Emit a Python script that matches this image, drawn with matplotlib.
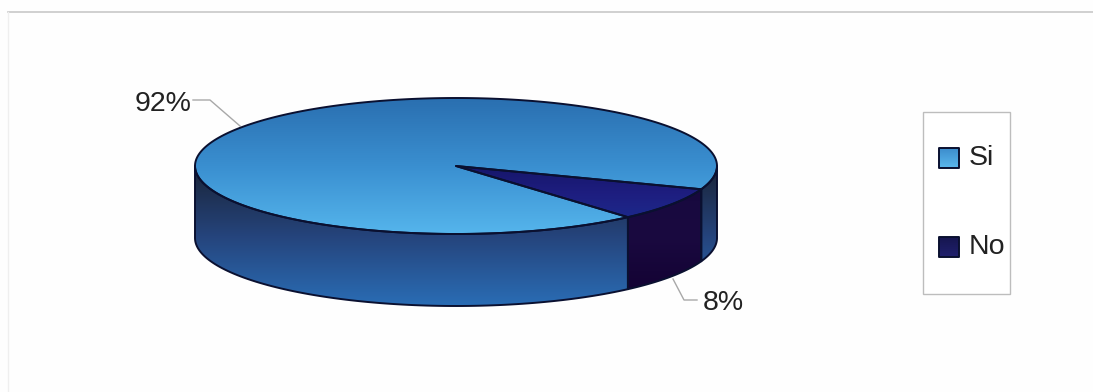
import matplotlib
matplotlib.use("Agg")
import matplotlib.pyplot as plt
import numpy as np
from matplotlib.patches import Polygon, Rectangle
from matplotlib.colors import LinearSegmentedColormap

categories = ["Si", "No"]
shares = [92, 8]
pct_labels = ["92%", "8%"]
colors_top = [["#2a6fb0", "#3a8fd0", "#55b5ec"], ["#16166a", "#1e1e80", "#1c2a8c"]]
colors_side = [["#1a2438", "#25447c", "#2a6db5"], ["#16083e", "#1a0a40", "#120030"]]

plt.rcParams["font.family"] = ["Liberation Sans", "DejaVu Sans"]

cx, cy, a, b, depth = 456, 166, 261, 68, 72
start = -20


def ell(t, dy=0):
    t = np.radians(t)
    return np.column_stack([cx + a * np.cos(t), cy - b * np.sin(t) + dy])


def grad(ax, poly, cols, extent, lw=1.4):
    # gradient image clipped to the shape
    cm = LinearSegmentedColormap.from_list("g", cols)
    z = np.linspace(0, 1, 256).reshape(-1, 1)
    im = ax.imshow(z, cmap=cm, extent=extent, aspect="auto", zorder=2, origin="upper")
    p = Polygon(poly, closed=True, transform=ax.transData, facecolor="none", edgecolor="none")
    ax.add_patch(p)
    im.set_clip_path(p)
    ax.add_patch(Polygon(poly, closed=True, facecolor="none", edgecolor="#0a1030", lw=lw, zorder=3, joinstyle="round"))


fig = plt.figure(figsize=(10.93, 3.92), dpi=100, facecolor="#fefefe")
ax = fig.add_axes([0, 0, 1, 1])
ax.set_xlim(0, 1093)
ax.set_ylim(392, 0)
ax.axis("off")

# frame of the chart area
ax.plot([8, 1093], [12, 12], color="#c9c9c9", lw=1.2)
ax.plot([8, 8], [12, 392], color="#efefef", lw=1)

# angles come from the shares
sweep = [s / sum(shares) * 360 for s in shares]
si_end = start + sweep[0]
no_start, no_end = si_end - 360, start


def side(t0, t1):
    t = np.linspace(t0, t1, 100)
    return np.vstack([ell(t), ell(t[::-1], depth)])


# walls
grad(ax, side(-180, no_start), colors_side[0], (195, 720, 306, 166))
grad(ax, side(no_start, no_end), colors_side[1], (195, 720, 306, 166))
grad(ax, side(no_end, 0), colors_side[0], (195, 720, 306, 166))

# top faces
t = np.linspace(start, si_end, 300)
grad(ax, np.vstack([[cx, cy], ell(t)]), colors_top[0], (195, 720, 234, 98))
t = np.linspace(no_start, no_end, 60)
grad(ax, np.vstack([[cx, cy], ell(t)]), colors_top[1], (195, 720, 222, 166))

# leader lines
ax.plot([193, 210, 240], [100, 100, 126], color="#a8a8a8", lw=1, zorder=1)
ax.plot([673, 684, 697], [279, 300, 300], color="#a8a8a8", lw=1, zorder=1)
ax.text(135, 104, pct_labels[0], fontsize=20.5, color="#222222", va="center", ha="left")
ax.text(703, 303, pct_labels[1], fontsize=20.5, color="#222222", va="center", ha="left")

# legend
ax.add_patch(Rectangle((923, 112), 87, 182, facecolor="#ffffff", edgecolor="#bdbdbd", lw=1))
swatch_y = [148, 237]
swatch_cols = [["#3c8ccc", "#5ab8ee"], ["#16164f", "#20206e"]]
for name, y, cols in zip(categories, swatch_y, swatch_cols):
    sw = [(939, y), (959, y), (959, y + 20), (939, y + 20)]
    grad(ax, sw, cols, (939, 959, y + 20, y))
    ax.text(969, y + 10, name, fontsize=20.5, color="#222222", va="center", ha="left")

ax.set_xlim(0, 1093)
ax.set_ylim(392, 0)
fig.savefig("out.png", dpi=100, facecolor=fig.get_facecolor())
